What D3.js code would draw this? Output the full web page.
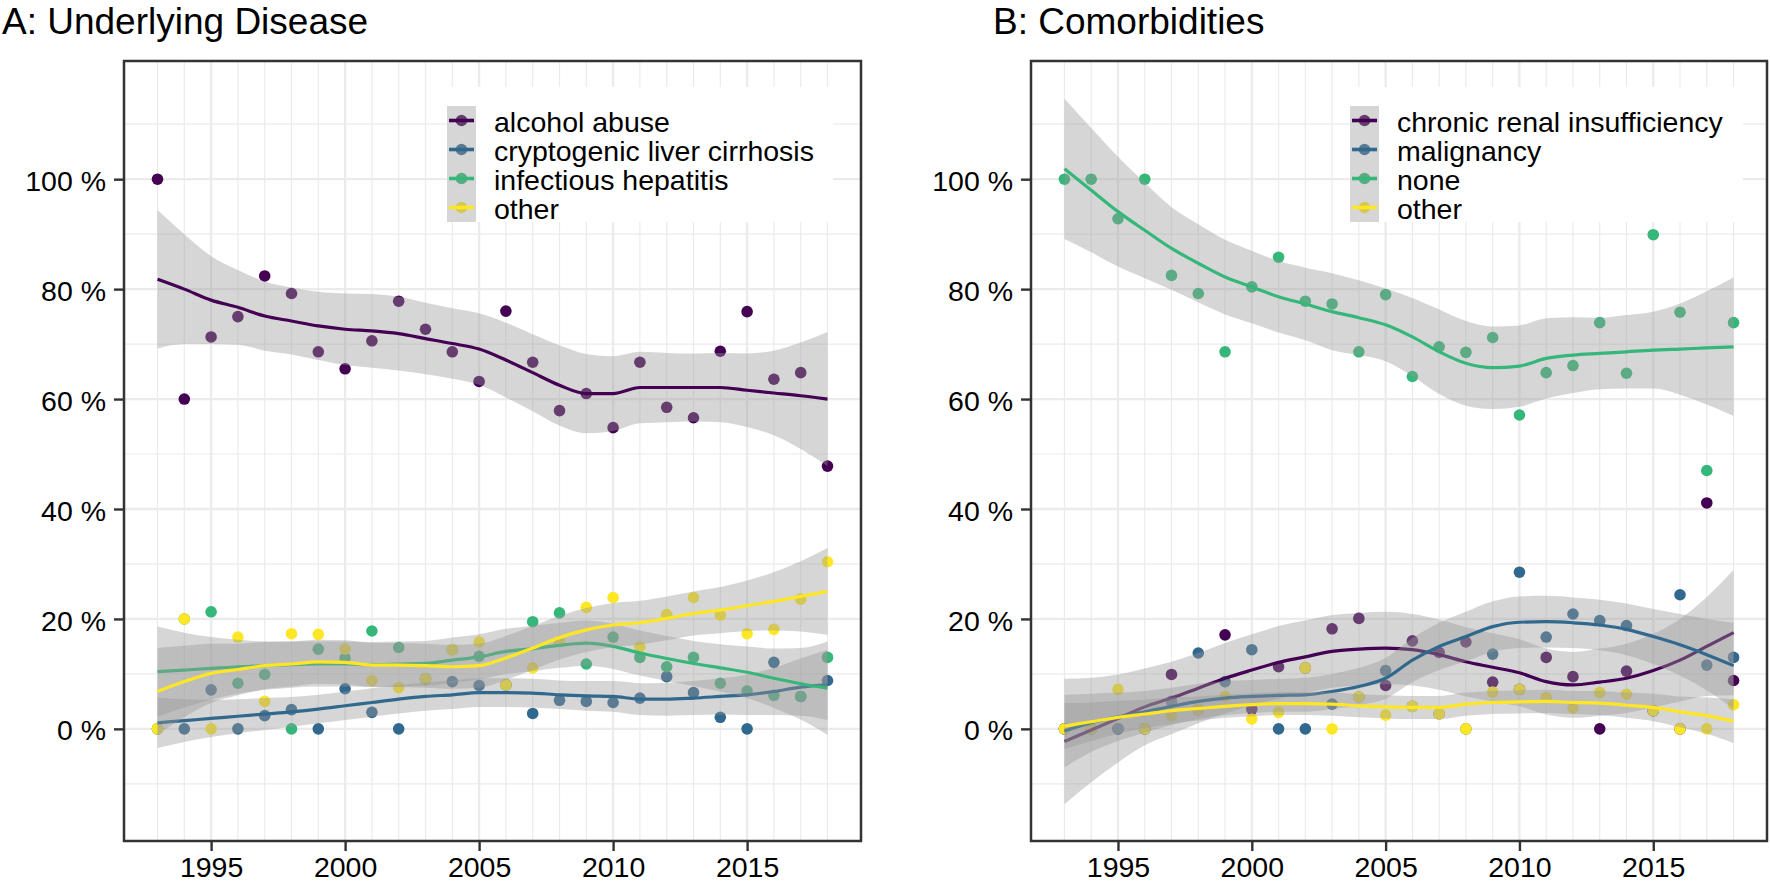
<!DOCTYPE html>
<html>
<head>
<meta charset="utf-8">
<script src="https://cdn.jsdelivr.net/npm/d3@7"></script>
<style>
  html, body { margin: 0; padding: 0; background: #fff; }
  svg { display: block; }
  text { font-family: "Liberation Sans", Arial, sans-serif; }
</style>
</head>
<body>
<script>
// ---------------- DATA ----------------
const years = [1993,1994,1995,1996,1997,1998,1999,2000,2001,2002,2003,2004,2005,2006,2007,2008,2009,2010,2011,2012,2013,2014,2015,2016,2017,2018];
const xTicks = [1995, 2000, 2005, 2010, 2015];
const yTicks = [0, 20, 40, 60, 80, 100];
const yMinorTicks = [-10, 10, 30, 50, 70, 90, 110];
const colors = ["#440154", "#31688E", "#35B779", "#FDE725"];

const titleA = "A: Underlying Disease";
const titleB = "B: Comorbidities";
const seriesA = ["alcohol abuse", "cryptogenic liver cirrhosis", "infectious hepatitis", "other"];
const seriesB = ["chronic renal insufficiency", "malignancy", "none", "other"];

// Panel A observed shares (%)
const aAlcohol = [100, 60, 71.3, 75, 82.4, 79.2, 68.6, 65.5, 70.6, 77.8, 72.7, 68.6, 63.2, 76, 66.7, 57.9, 61, 54.8, 66.7, 58.5, 56.6, 68.7, 75.9, 63.6, 64.8, 47.8];
const aCrypto  = [0, 0, 7.1, 0, 2.4, 3.5, 0, 7.3, 3, 0, 9.1, 8.6, 7.9, 8, 2.8, 5.2, 5, 4.8, 5.6, 9.5, 6.6, 2.1, 0, 12.1, 5.9, 8.8];
const aInfect  = [0, 20, 21.3, 8.3, 9.9, 0, 14.5, 12.9, 17.8, 14.8, 9.1, 14.4, 13.2, 8, 19.5, 21.1, 11.8, 16.7, 13, 11.3, 13, 8.3, 6.9, 6.1, 5.9, 13];
const aOther   = [0, 20, 0, 16.7, 5, 17.3, 17.2, 14.5, 8.8, 7.5, 9.1, 14.4, 15.8, 8, 11.1, 15.9, 22.1, 23.9, 14.9, 20.8, 23.9, 20.7, 17.3, 18.1, 23.6, 30.4];

// Panel A smoothed fits and ribbon half-widths (%)
const aAlcoholFit = [81.8, 80, 78, 76.7, 75.1, 74.2, 73.3, 72.7, 72.4, 71.9, 71, 70.1, 69.1, 67.1, 64.8, 62.5, 61, 61, 62.1, 62.1, 62.1, 62.1, 61.6, 61.1, 60.6, 60];
const aAlcoholSE  = [12.6, 10, 8, 6.8, 6.3, 6.1, 6.2, 6.5, 6.7, 6.7, 6.5, 6.4, 6.5, 6.8, 7, 7.3, 7.2, 6.8, 6.5, 6.3, 6.2, 6.3, 6.7, 7.7, 9.7, 12.2];
const aCryptoFit  = [1.1, 1.5, 1.9, 2.3, 2.7, 3.1, 3.6, 4.2, 4.8, 5.4, 5.9, 6.2, 6.6, 6.6, 6.5, 6.2, 6.0, 5.9, 5.4, 5.4, 5.6, 5.9, 6.2, 6.8, 7.6, 8];
const aCryptoSE   = [4.6, 3.9, 3.4, 3.1, 2.9, 2.7, 2.6, 2.6, 2.6, 2.6, 2.6, 2.6, 2.6, 2.6, 2.6, 2.6, 2.7, 2.8, 2.9, 3, 3.1, 3.3, 3.7, 4.3, 5.2, 6.4];
const aInfectFit  = [10.4, 10.7, 11, 11.3, 11.5, 11.7, 11.8, 11.8, 11.7, 11.8, 11.9, 12.5, 13.1, 14.1, 14.6, 15.2, 15.6, 15, 13.8, 12.8, 11.9, 11.1, 10.3, 9.2, 8.2, 7.4];
const aInfectSE   = [8.2, 6.8, 5.7, 4.9, 4.4, 4.2, 4.1, 4.1, 4.1, 4.1, 4.1, 4.1, 4.1, 4.1, 4.1, 4.1, 4.1, 4.1, 4.1, 4.1, 4.1, 4.3, 4.7, 5.4, 6.5, 8.5];
const aOtherFit   = [6.8, 8.6, 10.1, 10.8, 11.5, 11.8, 12.2, 12.1, 11.6, 11.6, 11.5, 11.3, 11.5, 12.9, 14.7, 16.6, 18, 18.9, 19.3, 20.1, 21, 21.6, 22.4, 23.2, 24.1, 25];
const aOtherSE    = [7.9, 6.5, 5.4, 4.7, 4.3, 4.1, 4, 4, 4, 4, 4, 4, 4, 4, 4, 4, 4, 4, 4, 4, 4, 4.2, 4.6, 5.3, 6.4, 7.9];

// Panel B observed shares (%)
const bRenal = [0, 0, 0, 0, 9.9, 3.5, 17.1, 3.6, 11.3, 11.1, 18.2, 20.1, 7.9, 16, 13.9, 15.8, 8.5, 7.2, 13, 9.5, 0, 10.5, 3.3, 0, 41.1, 8.8];
const bMalig = [0, 0, 0, 0, 5, 13.8, 8.6, 14.4, 0, 0, 4.5, 5.8, 10.6, 4.1, 2.7, 0, 13.6, 28.5, 16.7, 20.9, 19.7, 18.8, 3.3, 24.4, 11.6, 13];
const bNone  = [100, 100, 92.8, 100, 82.5, 79.2, 68.6, 80.4, 85.8, 77.8, 77.3, 68.6, 79, 64.1, 69.5, 68.5, 71.2, 57.1, 64.8, 66.1, 73.9, 64.7, 89.9, 75.8, 47, 73.9];
const bOther = [0, 0, 7.2, 0, 2.4, 3.5, 5.9, 1.8, 3, 11.1, 0, 5.8, 2.5, 4.1, 2.7, 0, 6.7, 7.2, 5.7, 3.8, 6.6, 6.3, 3.3, 0, 0, 4.4];

// Panel B smoothed fits and ribbon half-widths (%)
const bRenalFit = [-2.3, -0.2, 1.9, 4, 5.6, 7.4, 9.2, 10.7, 12.1, 13.1, 14.1, 14.5, 14.7, 14.4, 13.5, 12.2, 11.2, 10.2, 8.6, 8, 8.5, 9.2, 10.6, 12.5, 15, 17.5];
const bRenalSE  = [11.4, 9.5, 8, 7, 6.6, 6.4, 6.4, 6.5, 6.6, 6.6, 6.6, 6.6, 6.6, 6.5, 6.4, 6.3, 6.2, 6.1, 6, 6, 6.1, 6.3, 6.7, 7.5, 9, 11.4];
const bMaligFit = [-0.4, 1.1, 2.2, 3.1, 4.1, 5, 5.6, 5.9, 6.1, 6.2, 6.8, 7.7, 9.2, 12.5, 15, 16.8, 18.6, 19.4, 19.5, 19.3, 18.9, 18.1, 16.8, 15.3, 13.5, 11.5];
const bMaligSE  = [6.6, 5.3, 4.4, 3.8, 3.4, 3.2, 3.1, 3, 3, 3.1, 3.2, 3.4, 3.7, 4, 4.3, 4.5, 4.6, 4.7, 4.7, 4.6, 4.6, 4.7, 5, 5.6, 6.5, 7.8];
const bNoneFit  = [101.9, 98, 94.1, 90.7, 87.4, 84.7, 82.2, 80.4, 78.6, 77.3, 75.9, 74.8, 73.5, 71.3, 68.6, 66.5, 65.7, 66, 67.4, 68, 68.3, 68.6, 68.9, 69.1, 69.3, 69.5];
const bNoneSE   = [12.8, 11.3, 10, 8.7, 7.5, 7.1, 6.8, 6.6, 6.5, 6.6, 7, 6.8, 6.6, 7.1, 7.7, 7.7, 7.5, 7.4, 7.3, 6.9, 6.5, 6.7, 7, 8.3, 10.3, 12.6];
const bOtherFit = [0.5, 1.3, 2.1, 2.7, 3.3, 3.7, 4.1, 4.4, 4.6, 4.6, 4.5, 4.2, 4.0, 3.9, 3.9, 4.5, 4.8, 4.9, 5, 4.8, 4.7, 4.3, 3.9, 3.1, 2.4, 1.4];
const bOtherSE  = [4.2, 3.5, 3, 2.6, 2.4, 2.2, 2.1, 2.1, 2.1, 2.1, 2.1, 2.1, 2.1, 2.1, 2.1, 2.1, 2.1, 2.1, 2.1, 2.1, 2.2, 2.3, 2.5, 2.8, 3.3, 4];

// ---------------- DRAWING ----------------
const W = 1770, H = 883;
const svg = d3.select("body").append("svg").attr("width", W).attr("height", H);

const FS = 28.5;
const xDomain = [1991.75, 2019.25];
const yDomain = [-20.4, 121.5];
const panelTop = 61, panelBottom = 841;

function drawPanel(cfg) {
  const g = svg.append("g");
  const x = d3.scaleLinear().domain(xDomain).range([cfg.left, cfg.right]);
  const y = d3.scaleLinear().domain(yDomain).range([panelBottom, panelTop]);

  // title
  g.append("text").attr("x", cfg.titleX).attr("y", 34)
    .attr("font-size", 37).attr("fill", "#000").text(cfg.title);

  // grid
  const grid = g.append("g");
  grid.selectAll("line.hmin").data(yMinorTicks).join("line")
    .attr("x1", cfg.left).attr("x2", cfg.right)
    .attr("y1", d => y(d)).attr("y2", d => y(d))
    .attr("stroke", "#ebebeb").attr("stroke-width", 1.2);
  grid.selectAll("line.vmin").data(years.filter(v => !xTicks.includes(v))).join("line")
    .attr("y1", panelTop).attr("y2", panelBottom)
    .attr("x1", d => x(d)).attr("x2", d => x(d))
    .attr("stroke", "#ebebeb").attr("stroke-width", 1.2);
  grid.selectAll("line.hmaj").data(yTicks).join("line")
    .attr("x1", cfg.left).attr("x2", cfg.right)
    .attr("y1", d => y(d)).attr("y2", d => y(d))
    .attr("stroke", "#ebebeb").attr("stroke-width", 2.3);
  grid.selectAll("line.vmaj").data(xTicks).join("line")
    .attr("y1", panelTop).attr("y2", panelBottom)
    .attr("x1", d => x(d)).attr("x2", d => x(d))
    .attr("stroke", "#ebebeb").attr("stroke-width", 2.3);

  // points (drawn first, ribbons cover them)
  cfg.points.forEach((vals, i) => {
    g.append("g").selectAll("circle").data(vals.map((v, j) => [years[j], v])).join("circle")
      .attr("cx", d => x(d[0])).attr("cy", d => y(d[1])).attr("r", 5.8)
      .attr("fill", colors[i]);
  });

  // smooth ribbons + lines, per group
  cfg.fits.forEach((fit, i) => {
    const se = cfg.ses[i];
    const rows = fit.map((v, j) => ({ yr: years[j], fit: v, lo: v - se[j], hi: v + se[j] }));
    g.append("path").datum(rows)
      .attr("d", d3.area().x(d => x(d.yr)).y0(d => y(d.lo)).y1(d => y(d.hi)).curve(d3.curveMonotoneX))
      .attr("fill", "#999999").attr("fill-opacity", 0.4);
    g.append("path").datum(rows)
      .attr("d", d3.line().x(d => x(d.yr)).y(d => y(d.fit)).curve(d3.curveMonotoneX))
      .attr("fill", "none").attr("stroke", colors[i]).attr("stroke-width", 3.2);
  });

  // axes
  const ya = g.append("g").attr("transform", `translate(${cfg.left},0)`)
    .call(d3.axisLeft(y).tickValues(yTicks).tickSize(10).tickPadding(8).tickFormat(d => d + " %"));
  const xa = g.append("g").attr("transform", `translate(0,${panelBottom})`)
    .call(d3.axisBottom(x).tickValues(xTicks).tickSize(10).tickPadding(6).tickFormat(d3.format("d")));
  [ya, xa].forEach(a => {
    a.select(".domain").remove();
    a.selectAll(".tick line").attr("stroke", "#333333").attr("stroke-width", 2.4);
    a.selectAll(".tick text").attr("font-size", FS).attr("fill", "#000")
      .attr("font-family", '"Liberation Sans", Arial, sans-serif');
  });
  ya.selectAll(".tick text").attr("dy", "0.39em");

  // panel border
  g.append("rect").attr("x", cfg.left).attr("y", panelTop)
    .attr("width", cfg.right - cfg.left).attr("height", panelBottom - panelTop)
    .attr("fill", "none").attr("stroke", "#333333").attr("stroke-width", 2.5);

  // legend
  const lg = g.append("g");
  lg.append("rect").attr("x", cfg.legX).attr("y", 87)
    .attr("width", cfg.legW).attr("height", 135).attr("fill", "#fff");
  const keyTop = 106, keySize = 29;
  cfg.names.forEach((name, i) => {
    const cy = keyTop + keySize * i + keySize / 2;
    lg.append("circle").attr("cx", cfg.legX + keySize / 2).attr("cy", cy).attr("r", 5.8).attr("fill", colors[i]);
    lg.append("rect").attr("x", cfg.legX).attr("y", keyTop + keySize * i)
      .attr("width", keySize).attr("height", keySize).attr("fill", "#999999").attr("fill-opacity", 0.4);
    lg.append("line").attr("x1", cfg.legX + 2).attr("x2", cfg.legX + keySize - 2)
      .attr("y1", cy).attr("y2", cy).attr("stroke", colors[i]).attr("stroke-width", 3.6);
    lg.append("text").attr("x", cfg.legX + keySize + 18).attr("y", cy + 11)
      .attr("font-size", FS).attr("fill", "#000").text(name);
  });
}

drawPanel({
  title: titleA, titleX: 2, left: 124, right: 861,
  legX: 447, legW: 386,
  names: seriesA,
  points: [aAlcohol, aCrypto, aInfect, aOther],
  fits: [aAlcoholFit, aCryptoFit, aInfectFit, aOtherFit],
  ses: [aAlcoholSE, aCryptoSE, aInfectSE, aOtherSE]
});
drawPanel({
  title: titleB, titleX: 993, left: 1031, right: 1767,
  legX: 1350, legW: 393,
  names: seriesB,
  points: [bRenal, bMalig, bNone, bOther],
  fits: [bRenalFit, bMaligFit, bNoneFit, bOtherFit],
  ses: [bRenalSE, bMaligSE, bNoneSE, bOtherSE]
});
</script>
</body>
</html>
